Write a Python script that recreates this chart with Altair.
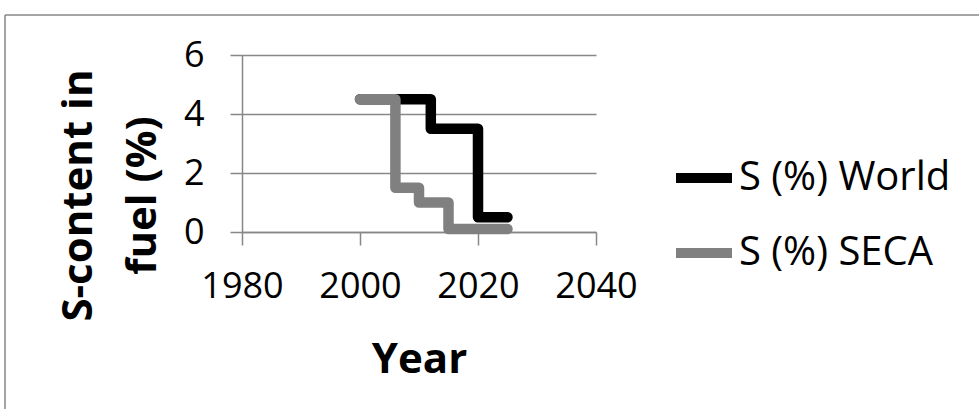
import altair as alt
import pandas as pd

# ---- data ----
world_years = [2000, 2012, 2020, 2025]
world_values = [4.5, 3.5, 0.5, 0.5]
seca_years = [2000, 2006, 2010, 2015, 2025]
seca_values = [4.5, 1.5, 1.0, 0.1, 0.1]
series_names = ["S (%) World", "S (%) SECA"]
series_colors = ["#000000", "#808080"]
x_ticks = [1980, 2000, 2020, 2040]
y_ticks = [0, 2, 4, 6]

df_world = pd.DataFrame({"Year": world_years, "S": world_values, "Series": series_names[0]})
df_seca = pd.DataFrame({"Year": seca_years, "S": seca_values, "Series": series_names[1]})

FONT = "Open Sans"
GRAY = "#878787"

PLOT_W, PLOT_H = 354, 177
LEFT, TOP = 242, 55

x_enc = alt.X(
    "Year:Q",
    scale=alt.Scale(domain=[1980, 2040], nice=False, zero=False),
    axis=alt.Axis(
        values=x_ticks, format="d", title="Year", grid=False,
        labelOverlap=False, labelFlush=False,
        domainColor=GRAY, domainWidth=1.5, tickColor=GRAY, tickWidth=1.5, tickSize=13,
        labelFont=FONT, labelFontSize=36, labelColor="black", labelPadding=24,
        titleFont=FONT, titleFontSize=42, titleFontWeight="bold", titleColor="black",
        titleX=PLOT_W / 2, titleY=372 - (TOP + PLOT_H), titleAlign="center", titleBaseline="alphabetic",
    ),
)
y_enc = alt.Y(
    "S:Q",
    scale=alt.Scale(domain=[0, 6], nice=False),
    axis=alt.Axis(
        values=y_ticks, title=["S-content in", "fuel (%)"], grid=True,
        labelOverlap=False, labelFlush=False,
        gridColor=GRAY, gridWidth=1.5,
        domainColor=GRAY, domainWidth=1.5, tickColor=GRAY, tickWidth=1.5, tickSize=12,
        labelFont=FONT, labelFontSize=36, labelColor="black", labelPadding=26,
        titleFont=FONT, titleFontSize=42, titleFontWeight="bold", titleColor="black",
        titleAngle=270, titleX=91 - LEFT, titleY=195 - TOP, titleAlign="center",
        titleBaseline="alphabetic", titleLineHeight=64,
    ),
)
color_enc = alt.Color(
    "Series:N",
    scale=alt.Scale(domain=series_names, range=series_colors),
    legend=alt.Legend(
        title=None, orient="none", legendX=671 - LEFT, legendY=90,
        symbolType="stroke", symbolSize=3136, symbolStrokeWidth=10,
        labelFont=FONT, labelFontSize=40, labelColor="black", labelOffset=2,
        labelLimit=0, rowPadding=22, padding=0,
    ),
)

line_props = dict(strokeWidth=10.5, strokeCap="round", strokeJoin="round", interpolate="step-after")

world = alt.Chart(df_world).mark_line(**line_props).encode(x=x_enc, y=y_enc, color=color_enc)
seca = alt.Chart(df_seca).mark_line(**line_props).encode(x="Year:Q", y="S:Q", color="Series:N")

frame_top = alt.Chart(pd.DataFrame({"k": [0]})).mark_rule(color=GRAY, strokeWidth=1.5).encode(
    x=alt.value(5 - LEFT), x2=alt.value(979 - LEFT), y=alt.value(15 - TOP)
)
frame_left = alt.Chart(pd.DataFrame({"k": [0]})).mark_rule(color=GRAY, strokeWidth=1.5).encode(
    x=alt.value(5 - LEFT), y=alt.value(15 - TOP), y2=alt.value(409 - TOP)
)

chart = alt.layer(world, seca, frame_top, frame_left).properties(
    width=PLOT_W, height=PLOT_H,
    autosize=alt.AutoSizeParams(type="none"),
    padding={"left": LEFT, "top": TOP, "right": 979 - LEFT - PLOT_W, "bottom": 409 - TOP - PLOT_H},
    background="white",
).configure_view(stroke=None)

chart.save("out.html", embed_options={"renderer": "svg", "actions": False})
